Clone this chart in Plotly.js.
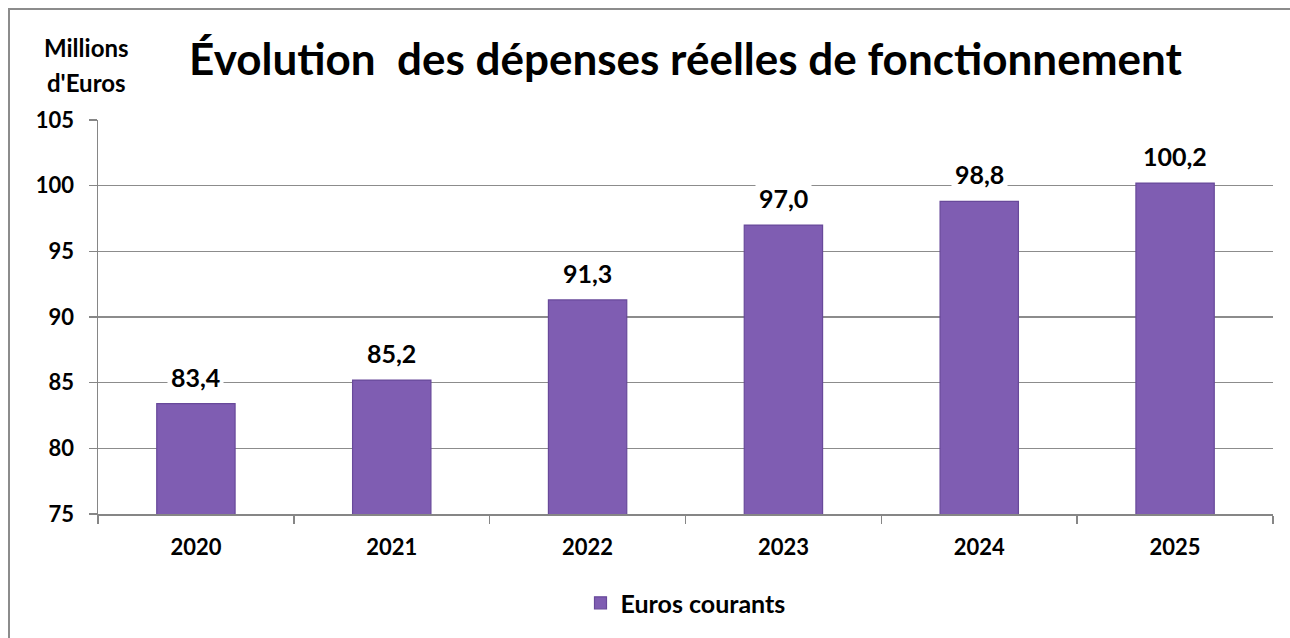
<!DOCTYPE html>
<html>
<head>
<meta charset="utf-8">
<script src="https://cdn.plot.ly/plotly-3.0.1.min.js"></script>
<style>
html,body{margin:0;padding:0;background:#fff;overflow:hidden;}
#wrap{position:relative;width:1290px;height:638px;}
#chart{width:1290px;height:638px;}
#frame{position:absolute;left:8px;top:8px;width:1400px;height:800px;border-left:2px solid #8c8c8c;border-top:2px solid #8c8c8c;pointer-events:none;}
</style>
</head>
<body>
<div id="wrap"><div id="chart"></div><div id="frame"></div></div>
<script>
const years = ['2020', '2021', '2022', '2023', '2024', '2025'];
const eurosCourants = [83.4, 85.2, 91.3, 97.0, 98.8, 100.2];
const seriesName = 'Euros courants';
const chartTitle = 'Évolution\u00a0 des dépenses réelles de fonctionnement';
const yUnitLines = ['Millions', "d'Euros"];
const yTicks = [75, 80, 85, 90, 95, 100, 105];

const FONT = 'Lato, "Open Sans", sans-serif';
const fmt = v => v.toFixed(1).replace('.', ',');

const M = {l: 98, r: 17, t: 120, b: 120};
const PW = 1290 - M.l - M.r, PH = 638 - M.t - M.b;
const PB = 638 - M.b;

const trace = {
  type: 'bar',
  x: years,
  y: eurosCourants,
  name: '<b>' + seriesName + '</b>',
  showlegend: true,
  marker: {color: '#7f5db2', line: {color: '#68499a', width: 1.2}},
  hoverinfo: 'skip'
};

const labelAnnotations = years.map((yr, i) => ({
  x: i, y: eurosCourants[i], xref: 'x', yref: 'y',
  text: '<b>' + fmt(eurosCourants[i]) + '</b>',
  showarrow: false, yanchor: 'bottom', yshift: 8,
  bgcolor: '#ffffff', borderpad: 3,
  font: {family: FONT, size: 25, color: '#000'}
}));

const unitAnnotations = yUnitLines.map((t, i) => ({
  xref: 'paper', yref: 'paper',
  x: (86 - M.l) / PW, y: (PB - (47 + 35 * i)) / PH,
  xanchor: 'center', yanchor: 'middle',
  text: '<b>' + t + '</b>', showarrow: false,
  font: {family: FONT, size: 24, color: '#000'}
}));

const layout = {
  width: 1290, height: 638,
  margin: M,
  paper_bgcolor: 'rgba(255,255,255,0)', plot_bgcolor: 'rgba(255,255,255,0)',
  font: {family: FONT, color: '#000'},
  title: {
    text: '<b>' + chartTitle + '</b>',
    font: {family: FONT, size: 44, color: '#000'},
    x: 0.5, xref: 'paper', xanchor: 'center',
    y: 1 - 60/638, yref: 'container', yanchor: 'middle',
    automargin: false
  },
  bargap: 0.6,
  xaxis: {
    type: 'category',
    categoryarray: years,
    range: [-0.5, years.length - 0.5],
    autorange: false,
    automargin: false,
    tickson: 'boundaries',
    tickangle: 0,
    tickvals: years,
    ticktext: years.map(y => '<b>' + y + '</b>'),
    ticks: 'outside', ticklen: 8, tickcolor: '#868686', tickwidth: 1.5,
    showline: true, linecolor: '#868686', linewidth: 1.5,
    showgrid: false,
    tickfont: {family: FONT, size: 22, color: '#000'},
    ticklabelstandoff: 13,
    fixedrange: true
  },
  yaxis: {
    range: [75, 105],
    autorange: false,
    automargin: false,
    tickvals: yTicks,
    ticktext: yTicks.map(v => '<b>' + v + '</b>'),
    ticks: 'outside', ticklen: 8, tickcolor: '#868686', tickwidth: 1.5,
    showline: true, linecolor: '#868686', linewidth: 1.5,
    showgrid: true, gridcolor: '#8c8c8c', gridwidth: 1.3,
    zeroline: false,
    tickfont: {family: FONT, size: 22, color: '#000'},
    ticklabelstandoff: 10,
    fixedrange: true
  },
  showlegend: true,
  legend: {
    orientation: 'h', x: 0.5, xanchor: 'center',
    y: (PB - 608) / PH, yanchor: 'middle',
    font: {family: FONT, size: 25, color: '#000'},
    bgcolor: 'rgba(255,255,255,0)',
    itemwidth: 30
  },
  annotations: unitAnnotations.concat(labelAnnotations)
};

Plotly.newPlot('chart', [trace], layout, {displayModeBar: false, staticPlot: true});
</script>
</body>
</html>
